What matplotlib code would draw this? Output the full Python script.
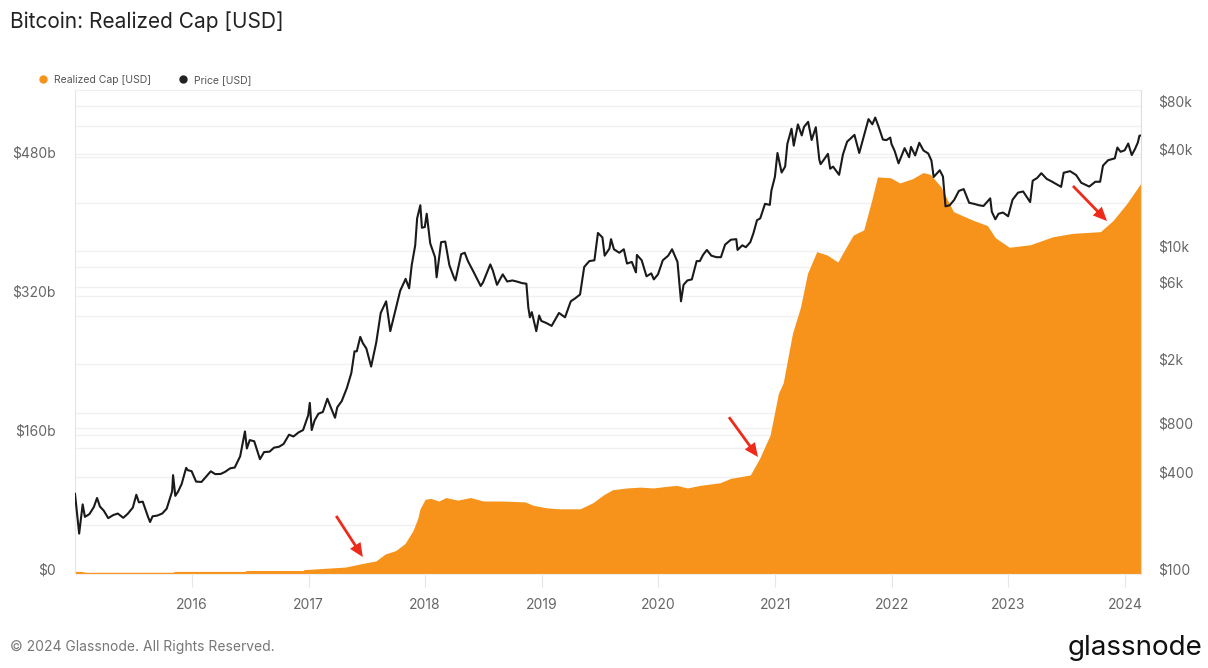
import numpy as np
import pandas as pd
import matplotlib
matplotlib.use('Agg')
import matplotlib.pyplot as plt
import matplotlib.dates as mdates
import matplotlib.transforms as mtransforms
from matplotlib.lines import Line2D
from matplotlib.ticker import FixedLocator, NullLocator

plt.rcParams['font.family'] = ['Inter', 'DejaVu Sans']

# realized cap, billions USD
rc_dates = ['2015-01-01', '2015-01-20', '2015-02-05', '2015-11-06', '2015-11-07', '2016-06-18',
            '2016-06-19', '2016-12-16', '2016-12-17', '2017-04-27', '2017-06-17', '2017-07-31',
            '2017-08-29', '2017-10-01', '2017-10-30', '2017-11-24', '2017-12-09', '2017-12-16',
            '2018-01-01', '2018-01-19', '2018-02-13', '2018-03-07', '2018-04-13', '2018-05-23',
            '2018-07-02', '2018-08-26', '2018-11-10', '2018-12-06', '2019-01-19', '2019-02-28',
            '2019-05-01', '2019-06-10', '2019-07-13', '2019-08-11', '2019-09-24', '2019-11-06',
            '2019-12-16', '2020-01-30', '2020-02-28', '2020-04-01', '2020-05-11', '2020-07-12',
            '2020-08-14', '2020-10-15', '2020-11-13', '2020-12-16', '2021-01-11', '2021-01-26',
            '2021-02-24', '2021-03-21', '2021-04-12', '2021-05-11', '2021-06-13', '2021-07-16',
            '2021-07-31', '2021-09-02', '2021-10-05', '2021-10-30', '2021-11-17', '2021-12-28',
            '2022-01-26', '2022-03-07', '2022-04-09', '2022-05-01', '2022-06-03', '2022-07-13',
            '2022-09-13', '2022-10-27', '2022-11-21', '2023-01-04', '2023-03-11', '2023-05-19',
            '2023-07-20', '2023-10-16', '2023-11-25', '2024-01-08', '2024-02-20']
rc_values = [3, 3, 2, 2, 3, 3,
             4, 4, 5, 8, 12, 15,
             23, 27, 35, 50, 64, 75,
             86, 87, 84, 88, 85, 88,
             84, 84, 83, 79, 76, 75,
             75, 82, 91, 97, 99, 100,
             99, 101, 102, 99, 102, 105,
             110, 114, 133, 160, 208, 220,
             277, 307, 346, 371, 367, 359,
             369, 390, 396, 430, 457, 456,
             450, 455, 462, 460, 446, 417,
             407, 401, 387, 376, 379, 388,
             392, 394, 407, 427, 450]

# BTC price, USD
px_dates = ['2015-01-01', '2015-01-14', '2015-01-25', '2015-02-01', '2015-02-15', '2015-03-01',
            '2015-03-11', '2015-03-20', '2015-04-01', '2015-04-15', '2015-05-01', '2015-05-15',
            '2015-06-01', '2015-06-15', '2015-07-01', '2015-07-12', '2015-07-20', '2015-08-01',
            '2015-08-18', '2015-08-24', '2015-09-01', '2015-09-15', '2015-10-01', '2015-10-15',
            '2015-11-01', '2015-11-04', '2015-11-11', '2015-11-20', '2015-12-01', '2015-12-15',
            '2015-12-20', '2016-01-01', '2016-01-15', '2016-02-01', '2016-02-15', '2016-03-01',
            '2016-03-15', '2016-04-01', '2016-04-15', '2016-05-01', '2016-05-15', '2016-06-01',
            '2016-06-16', '2016-06-22', '2016-07-01', '2016-07-15', '2016-08-02', '2016-08-15',
            '2016-09-01', '2016-09-15', '2016-10-01', '2016-10-15', '2016-11-01', '2016-11-15',
            '2016-12-01', '2016-12-15', '2016-12-31', '2017-01-05', '2017-01-11', '2017-01-20',
            '2017-02-01', '2017-02-15', '2017-03-01', '2017-03-10', '2017-03-25', '2017-04-01',
            '2017-04-15', '2017-05-01', '2017-05-15', '2017-05-25', '2017-06-01', '2017-06-12',
            '2017-06-20', '2017-07-01', '2017-07-16', '2017-08-01', '2017-08-15', '2017-09-01',
            '2017-09-14', '2017-10-01', '2017-10-15', '2017-11-01', '2017-11-12', '2017-11-20',
            '2017-12-01', '2017-12-07', '2017-12-17', '2017-12-22', '2017-12-31', '2018-01-06',
            '2018-01-17', '2018-02-01', '2018-02-06', '2018-02-20', '2018-03-05', '2018-03-18',
            '2018-04-01', '2018-04-06', '2018-04-24', '2018-05-05', '2018-05-15', '2018-06-01',
            '2018-06-24', '2018-07-01', '2018-07-24', '2018-08-01', '2018-08-14', '2018-09-01',
            '2018-09-15', '2018-10-01', '2018-10-15', '2018-11-01', '2018-11-14', '2018-11-20',
            '2018-11-25', '2018-12-01', '2018-12-15', '2018-12-24', '2018-12-31', '2019-01-15',
            '2019-02-01', '2019-02-08', '2019-02-24', '2019-03-15', '2019-04-02', '2019-04-15',
            '2019-05-01', '2019-05-14', '2019-05-30', '2019-06-15', '2019-06-26', '2019-07-10',
            '2019-07-17', '2019-08-01', '2019-08-06', '2019-08-15', '2019-09-01', '2019-09-15',
            '2019-09-25', '2019-10-10', '2019-10-23', '2019-10-26', '2019-11-10', '2019-11-25',
            '2019-12-10', '2019-12-18', '2019-12-31', '2020-01-15', '2020-02-01', '2020-02-13',
            '2020-03-01', '2020-03-12', '2020-03-20', '2020-04-01', '2020-04-15', '2020-04-30',
            '2020-05-10', '2020-05-20', '2020-06-01', '2020-06-15', '2020-07-01', '2020-07-15',
            '2020-07-28', '2020-08-15', '2020-09-01', '2020-09-05', '2020-09-20', '2020-10-01',
            '2020-10-15', '2020-10-25', '2020-11-05', '2020-11-15', '2020-11-30', '2020-12-15',
            '2020-12-20', '2020-12-31', '2021-01-08', '2021-01-21', '2021-02-01', '2021-02-08',
            '2021-02-21', '2021-02-28', '2021-03-13', '2021-03-25', '2021-04-01', '2021-04-14',
            '2021-04-25', '2021-05-08', '2021-05-19', '2021-05-23', '2021-06-01', '2021-06-15',
            '2021-06-22', '2021-07-01', '2021-07-20', '2021-08-01', '2021-08-14', '2021-09-06',
            '2021-09-21', '2021-10-01', '2021-10-20', '2021-11-01', '2021-11-10', '2021-11-20',
            '2021-12-04', '2021-12-15', '2021-12-27', '2021-12-31', '2022-01-10', '2022-01-22',
            '2022-02-10', '2022-02-24', '2022-03-02', '2022-03-15', '2022-03-28', '2022-04-10',
            '2022-04-25', '2022-05-05', '2022-05-12', '2022-05-31', '2022-06-10', '2022-06-18',
            '2022-07-01', '2022-07-15', '2022-07-30', '2022-08-14', '2022-08-31', '2022-09-15',
            '2022-10-01', '2022-10-15', '2022-11-05', '2022-11-10', '2022-11-21', '2022-12-01',
            '2022-12-15', '2022-12-31', '2023-01-14', '2023-01-31', '2023-02-16', '2023-03-10',
            '2023-03-18', '2023-04-01', '2023-04-14', '2023-05-01', '2023-05-15', '2023-06-15',
            '2023-06-23', '2023-07-13', '2023-08-01', '2023-08-17', '2023-09-11', '2023-09-30',
            '2023-10-15', '2023-10-24', '2023-11-09', '2023-11-30', '2023-12-08', '2023-12-18',
            '2023-12-31', '2024-01-11', '2024-01-22', '2024-02-01', '2024-02-10', '2024-02-15',
            '2024-02-20']
px_values = [314, 178, 270, 226, 235, 260,
             296, 262, 247, 222, 232, 237,
             223, 236, 258, 310, 278, 281,
             225, 210, 228, 230, 237, 254,
             325, 410, 305, 325, 362, 455,
             440, 434, 374, 372, 400, 433,
             416, 417, 430, 452, 457, 536,
             765, 600, 676, 665, 515, 570,
             573, 607, 615, 640, 730, 712,
             755, 780, 963, 1150, 780, 895,
             985, 1010, 1220, 1100, 930, 1080,
             1180, 1420, 1760, 2400, 2400, 2950,
             2700, 2500, 1930, 2720, 4150, 4900,
             3200, 4400, 5700, 6750, 5900, 8200,
             10900, 16000, 19300, 14000, 14150, 17100,
             11200, 9200, 6900, 11400, 11500, 8200,
             6900, 6600, 9600, 9800, 8700, 7500,
             6100, 6400, 8300, 7600, 6200, 7200,
             6500, 6600, 6500, 6350, 6300, 4500,
             3900, 4200, 3200, 4000, 3700, 3600,
             3450, 3650, 4150, 3900, 4900, 5100,
             5400, 8000, 8700, 8800, 13000, 12200,
             9400, 10400, 11900, 10300, 9800, 10300,
             8400, 8600, 7400, 9500, 8800, 7000,
             7300, 6700, 7200, 8800, 9400, 10300,
             8600, 4900, 6200, 6600, 6700, 8700,
             8700, 9500, 10200, 9400, 9200, 9200,
             11000, 11800, 11900, 10200, 10900, 10600,
             11400, 13000, 15600, 16000, 19700, 19400,
             23800, 29000, 40700, 30800, 33500, 46400,
             57500, 45200, 61200, 52300, 59000, 63500,
             49000, 58800, 37000, 34700, 36700, 40200,
             32500, 33500, 29800, 39900, 47800, 52700,
             40700, 48000, 66000, 61300, 67500, 59700,
             49300, 48900, 50700, 46300, 41800, 35100,
             43600, 38300, 44400, 39300, 47100, 42200,
             40400, 36500, 28900, 31800, 29100, 19000,
             19300, 20800, 23700, 24300, 20000, 19700,
             19300, 19100, 21300, 17600, 15800, 17100,
             17400, 16500, 20900, 23100, 23500, 20200,
             27400, 28500, 30500, 28100, 27200, 25100,
             30700, 31400, 29700, 26600, 25200, 27000,
             27000, 34000, 36700, 37700, 44000, 41400,
             42300, 46600, 39500, 43000, 47200, 52000,
             52300]

year_ticks = ['2016', '2017', '2018', '2019', '2020', '2021', '2022', '2023', '2024']
left_ticks = [0, 160, 320, 480]
left_labels = ['$0', '$160b', '$320b', '$480b']
right_ticks = [100, 400, 800, 2000, 6000, 10000, 40000, 80000]
right_labels = ['$100', '$400', '$800', '$2k', '$6k', '$10k', '$40k', '$80k']
right_grid = [200, 600, 1000, 4000, 8000, 20000, 60000]

orange = '#f7931a'
tick_color = '#666666'
grid_color = '#f0f0f0'

rc_x = pd.to_datetime(rc_dates)
px_x = pd.to_datetime(px_dates)
x_lim = (pd.Timestamp('2015-01-01'), pd.Timestamp('2024-02-20'))

fig = plt.figure(figsize=(12.08, 6.68), dpi=100)
rect = [75 / 1208, 1 - 574 / 668, (1141 - 75) / 1208, (574 - 90) / 668]

# log grid layer (under everything)
axg = fig.add_axes(rect, zorder=0)
axg.set_yscale('log')
axg.set_ylim(100, 100000)
axg.set_xlim(x_lim)
for v in right_ticks + right_grid:
    axg.axhline(v, color=grid_color, lw=1.0)
axg.axis('off')

# realized cap
ax = fig.add_axes(rect, zorder=1)
ax.patch.set_visible(False)
ax.fill_between(rc_x, 0, rc_values, color=orange, lw=0, zorder=2)
ax.set_ylim(0, 557)
ax.set_xlim(x_lim)
for v in left_ticks[1:]:
    ax.axhline(v, color=grid_color, lw=1.0, zorder=0)
ax.set_yticks(left_ticks)
ax.set_yticklabels(left_labels)
ax.tick_params(axis='y', length=0, pad=14, labelsize=10, labelcolor=tick_color)
ax.set_xticks(pd.to_datetime(year_ticks))
ax.set_xticklabels(year_ticks)
ax.tick_params(axis='x', length=9, color='#e6e6e6', pad=8, labelsize=10, labelcolor=tick_color)
ax.spines['left'].set_color('#fde0bd')
ax.spines['right'].set_visible(False)
ax.spines['top'].set_color('#eeeeee')
ax.spines['bottom'].set_color('#eeeeee')

# price
ax2 = ax.twinx()
ax2.set_zorder(2)
ax2.patch.set_visible(False)
ax2.plot(px_x, px_values, color='#1a1a1a', lw=1.5)
ax2.set_yscale('log')
ax2.set_ylim(100, 100000)
ax2.set_xlim(x_lim)
ax2.yaxis.set_major_locator(FixedLocator(right_ticks))
ax2.yaxis.set_minor_locator(NullLocator())
ax2.set_yticklabels(right_labels)
ax2.tick_params(axis='y', length=0, pad=12, labelsize=10, labelcolor=tick_color)
for s in ['left', 'top', 'bottom']:
    ax2.spines[s].set_visible(False)
ax2.spines['right'].set_color('#dddddd')

# nudge y labels upward like the original
shift = mtransforms.ScaledTranslation(0, 0.05, fig.dpi_scale_trans)
for a in (ax, ax2):
    for t in a.yaxis.get_major_ticks():
        t.label1.set_transform(t.label1.get_transform() + shift)
        t.label2.set_transform(t.label2.get_transform() + shift)

# red arrows
arrows = [((0.245, 0.120), (0.270, 0.035)),
          ((0.6135, 0.324), (0.6407, 0.2417)),
          ((0.9362, 0.8017), (0.9681, 0.7293))]
for tail, head in arrows:
    ax2.annotate('', xy=head, xytext=tail, xycoords='axes fraction', textcoords='axes fraction',
                 arrowprops=dict(arrowstyle='simple,head_length=1.0,head_width=0.9,tail_width=0.2',
                                 color='#ee2a1b', lw=0, shrinkA=0, shrinkB=0))

# legend
handles = [Line2D([], [], marker='o', ls='', color=orange, markersize=5, label='Realized Cap [USD]'),
           Line2D([], [], marker='o', ls='', color='#222222', markersize=5, label='Price [USD]')]
fig.legend(handles=handles, loc='center left', bbox_to_anchor=(0.019, 1 - 80 / 668), ncol=2,
           frameon=False, fontsize=7.5, handletextpad=0.1, columnspacing=2.0, labelcolor='#555555')

fig.text(10 / 1208, 1 - 22 / 668, 'Bitcoin: Realized Cap [USD]', fontsize=15, color='#222222', va='center')
fig.text(10 / 1208, 1 - 647 / 668, '\u00a9 2024 Glassnode. All Rights Reserved.', fontsize=10,
         color='#777777', va='center')
fig.text(1202 / 1208, 1 - 648 / 668, 'glassnode', fontsize=20, color='#111111', va='center', ha='right')

fig.savefig('out.png', dpi=100, facecolor='white')
